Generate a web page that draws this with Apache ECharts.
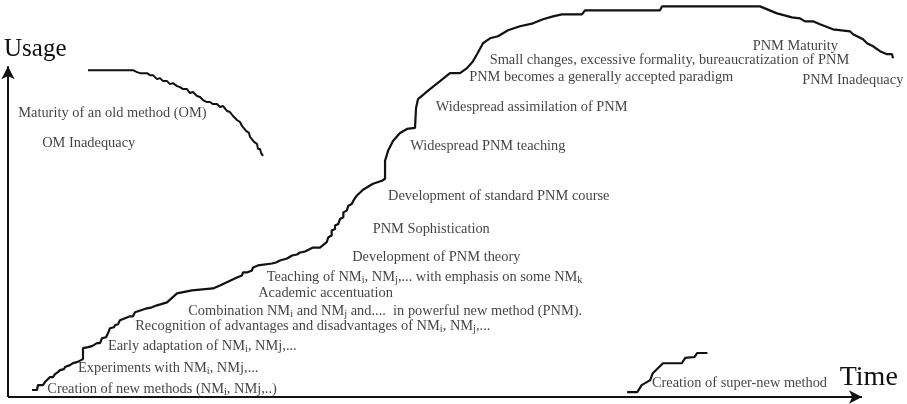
<!DOCTYPE html>
<html>
<head>
<meta charset="utf-8">
<script src="https://cdn.jsdelivr.net/npm/echarts@6/dist/echarts.min.js"></script>
<style>html,body{margin:0;padding:0;background:#fff}#chart{width:907px;height:404px}</style>
</head>
<body>
<div id="chart"></div>
<script>
// Time (0-100 = length of the time arrow) and Usage (0-100 = length of the usage arrow) readings
var pnmTime = [2.81,3.40,3.51,4.10,4.33,4.57,4.92,5.27,5.50,5.85,6.09,6.56,6.67,7.26,7.61,8.08,8.20,8.78,8.78,9.37,9.84,10.42,10.77,11.01,11.48,11.71,11.94,12.41,12.53,12.88,13.11,14.29,14.64,14.87,16.28,16.86,17.45,18.62,19.79,21.55,24.00,24.82,26.81,27.40,27.52,27.99,28.57,28.69,29.27,30.91,31.38,31.85,32.67,33.26,33.84,34.19,34.78,35.71,36.53,37.32,37.51,37.90,37.90,38.29,38.29,38.68,38.88,39.27,39.27,39.66,39.86,40.25,40.44,40.83,41.57,42.74,43.79,44.15,44.15,44.50,45.08,45.90,46.72,47.66,47.78,48.01,49.41,50.59,51.76,52.93,53.75,54.45,54.92,55.62,56.44,57.38,58.55,59.95,61.48,62.65,63.82,64.87,67.21,67.56,76.35,76.58,88.06,90.05,91.80,92.74,93.33,94.26,95.08,96.60,98.59,98.95,100.12,100.59,101.29,102.11,102.93,103.51,103.63];
var pnmUsage = [2.11,2.11,3.61,3.61,4.52,5.12,6.02,6.02,6.93,7.53,8.13,8.43,9.04,9.64,10.24,10.54,11.14,11.45,14.76,15.06,15.36,16.27,16.27,17.77,18.07,19.28,20.78,21.08,21.69,21.99,23.19,24.40,24.40,25.60,26.81,27.11,27.71,28.61,31.33,32.23,32.83,33.73,36.14,36.75,37.65,37.65,38.25,39.16,39.76,40.36,40.66,41.27,41.87,42.77,43.07,43.67,43.98,45.18,45.18,46.78,48.28,48.80,50.30,50.81,51.81,52.32,53.83,54.31,55.81,56.33,57.83,58.34,59.34,60.84,62.65,64.46,65.36,65.96,71.39,74.40,77.41,79.82,81.02,81.33,87.35,90.06,93.07,95.48,97.89,97.89,99.40,101.51,103.61,106.93,108.43,109.04,110.84,112.05,112.95,114.16,115.06,115.66,115.66,116.87,116.87,118.07,118.07,115.96,114.76,114.46,113.55,113.55,112.65,111.14,110.54,109.64,108.13,106.93,106.02,104.52,103.61,103.61,102.41];
var omTime = [9.37,14.64,15.11,15.46,16.28,16.63,16.98,17.45,17.80,18.15,18.62,18.97,19.32,19.79,20.14,20.49,20.96,21.31,21.66,22.13,22.48,22.83,23.30,23.65,24.00,24.47,24.82,25.18,25.64,25.99,26.35,26.58,26.81,27.17,27.40,27.63,27.87,28.22,28.34,28.57,28.81,29.16,29.27,29.51,29.63,29.86];
var omUsage = [98.80,98.80,98.19,97.89,97.89,97.29,97.29,96.08,96.39,95.48,95.48,94.58,94.88,93.98,93.67,93.07,93.07,91.87,92.17,90.96,90.66,89.76,89.16,89.16,88.55,88.55,87.65,87.95,86.45,86.14,84.94,85.24,83.73,83.13,81.93,82.23,80.42,79.82,78.61,78.92,77.11,76.51,75.00,75.00,73.80,72.89];
var snmTime = [72.5,73.7,74.2,75.2,75.5,76.1,76.7,78.9,79.3,80.4,80.7,81.9];
var snmUsage = [1.5,1.5,3.6,5.1,7.2,8.7,10.2,10.2,11.8,12.1,13.3,13.3];
var notes = [
  'Maturity of an old method (OM)',
  'OM Inadequacy',
  'Creation of new methods (NM{s|i}, NMj,..)',
  'Experiments with NM{s|i}, NMj,...',
  'Early adaptation of NM{s|i}, NMj,...',
  'Recognition of advantages and disadvantages of NM{s|i}, NM{s|j},...',
  'Combination NM{s|i} and NM{s|j} and....  in powerful new method (PNM).',
  'Academic accentuation',
  'Teaching of NM{s|i}, NM{s|j},... with emphasis on some NM{s|k}',
  'Development of PNM theory',
  'PNM Sophistication',
  'Development of standard PNM course',
  'Widespread PNM teaching',
  'Widespread assimilation of PNM',
  'PNM becomes a generally accepted paradigm',
  'Small changes, excessive formality, bureaucratization of PNM',
  'PNM Maturity',
  'PNM Inadequacy',
  'Creation of super-new method'
];
var noteTime = [1.2,4.0,4.6,8.2,11.7,14.9,21.1,29.3,30.3,40.3,42.7,44.5,47.1,50.1,54.0,56.4,87.2,93.0,75.4];
var noteUsage = [85.8,76.8,2.4,8.7,15.4,21.4,25.9,31.3,36.1,42.2,50.6,60.8,75.9,87.7,96.7,101.8,106.0,95.8,4.2];
var axisEnds = { time: 100, usage: 100 };

function pairs(a, b) { return a.map(function (v, i) { return [v, b[i]]; }); }

var serif = '"Liberation Serif", "DejaVu Serif", serif';
var ink = '#111';
var lineStyle = { color: ink, width: 2.2 };
var chart = echarts.init(document.getElementById('chart'));
chart.setOption({
  animation: false,
  backgroundColor: '#fff',
  grid: { left: 8, top: -1.4, width: 896.7, height: 398.4, containLabel: false },
  xAxis: {
    type: 'value', min: 0, max: 105,
    name: 'Time', nameLocation: 'end', nameGap: -65,
    nameTextStyle: { fontFamily: serif, fontSize: 28, color: ink, align: 'left', verticalAlign: 'bottom', padding: [0, 0, 5, 0] },
    axisLine: { show: false }, axisTick: { show: false }, axisLabel: { show: false }, splitLine: { show: false }
  },
  yAxis: {
    type: 'value', min: 0, max: 120,
    name: 'Usage', nameLocation: 'end', nameGap: -62,
    nameTextStyle: { fontFamily: serif, fontSize: 25, color: ink, align: 'left', padding: [0, 0, 0, -4] },
    axisLine: { show: false }, axisTick: { show: false }, axisLabel: { show: false }, splitLine: { show: false }
  },
  series: [
    { type: 'line', data: pairs(pnmTime, pnmUsage), showSymbol: false, clip: false, lineStyle: lineStyle, silent: true },
    { type: 'line', data: pairs(omTime, omUsage), showSymbol: false, clip: false, lineStyle: { color: ink, width: 2 }, silent: true },
    { type: 'line', data: pairs(snmTime, snmUsage), showSymbol: false, clip: false, lineStyle: lineStyle, silent: true },
    {
      type: 'scatter', symbolSize: 0, clip: false, silent: true,
      data: noteTime.map(function (t, i) { return { value: [t, noteUsage[i]], name: notes[i] }; }),
      label: {
        show: true, position: 'inside', align: 'left', verticalAlign: 'middle',
        fontFamily: serif, fontSize: 14.4, color: ink,
        formatter: function (p) { return p.name; },
        rich: { s: { fontFamily: serif, fontSize: 10.5, color: ink, padding: [6, 0, 0, 0] } }
      },
      markLine: {
        silent: true, animation: false,
        symbol: ['none', 'arrow'], symbolSize: [10, 13],
        lineStyle: { color: ink, width: 2, type: 'solid' },
        label: { show: false },
        data: [
          [{ coord: [0, 0] }, { coord: [axisEnds.time, 0] }],
          [{ coord: [0, 0] }, { coord: [0, axisEnds.usage] }]
        ]
      }
    }
  ]
});
</script>
</body>
</html>
